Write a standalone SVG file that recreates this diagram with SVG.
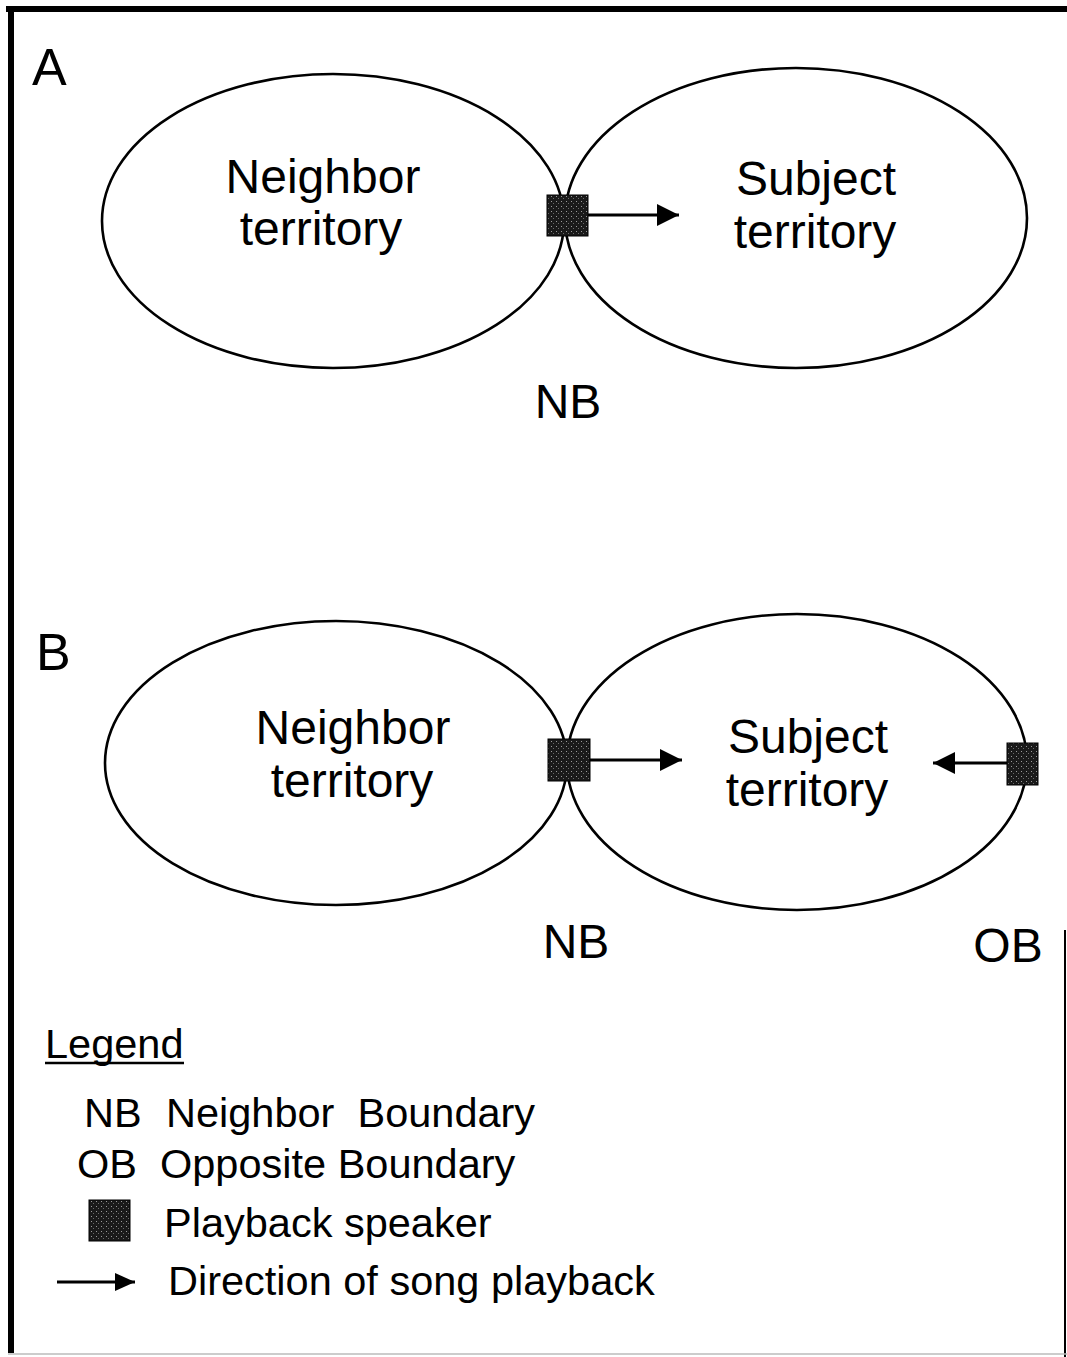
<svg xmlns="http://www.w3.org/2000/svg" width="1067" height="1357" viewBox="0 0 1067 1357">
<style>
.t{font-family:"Liberation Sans",Arial,sans-serif;fill:#000}
.big{font-size:48px;text-anchor:middle}
.lbl{font-size:52px}
.leg{font-size:41.5px}
.ell{fill:none;stroke:#000;stroke-width:2.6}
.conn{stroke:#000;stroke-width:3;fill:none}
.spk{fill:url(#noise);stroke:#000;stroke-width:1}
</style>
<defs>
<pattern id="noise" width="5" height="5" patternUnits="userSpaceOnUse">
<rect width="5" height="5" fill="#1a1a1a"/>
<rect x="1" y="1" width="1" height="1" fill="#9a9a9a"/>
<rect x="3" y="3" width="1" height="1" fill="#6a6a6a"/>
</pattern>
<marker id="ah" markerWidth="22" markerHeight="22" refX="22" refY="11" orient="auto" markerUnits="userSpaceOnUse">
<path d="M0,0 L22,11 L0,22 Z" fill="#000"/>
</marker>
<marker id="ahs" markerWidth="20" markerHeight="20" refX="20" refY="10" orient="auto" markerUnits="userSpaceOnUse">
<path d="M0,1 L20,10 L0,19 Z" fill="#000"/>
</marker>
</defs>
<g id="frame">
<rect x="6" y="6" width="1061" height="6" fill="#000"/>
<rect x="8" y="6" width="6" height="1347" fill="#000"/>
<line x1="1065" y1="930" x2="1065" y2="1357" stroke="#000" stroke-width="2"/>
<line x1="8" y1="1354" x2="1067" y2="1354" stroke="#bbb" stroke-width="1.5"/>
</g>
<g id="panelA">
<text class="t lbl" x="32" y="85">A</text>
</g>
<g id="A-neighbor">
<ellipse class="ell" cx="333" cy="221" rx="231" ry="147"/>
<text class="t big" x="323" y="193">Neighbor</text>
<text class="t big" x="321" y="245">territory</text>
</g>
<g id="A-subject">
<ellipse class="ell" cx="796" cy="218" rx="231" ry="150"/>
<text class="t big" x="816" y="195">Subject</text>
<text class="t big" x="815" y="248">territory</text>
</g>
<g id="A-speaker">
<rect class="spk" x="547" y="195" width="41" height="41"/>
<text class="t big" x="568" y="418">NB</text>
</g>
<g id="panelB">
<text class="t lbl" x="36" y="670">B</text>
</g>
<g id="B-neighbor">
<ellipse class="ell" cx="336" cy="763" rx="231" ry="142"/>
<text class="t big" x="353" y="744">Neighbor</text>
<text class="t big" x="352" y="797">territory</text>
</g>
<g id="B-subject">
<ellipse class="ell" cx="797" cy="762" rx="230" ry="148"/>
<text class="t big" x="808" y="753">Subject</text>
<text class="t big" x="807" y="806">territory</text>
</g>
<g id="B-speaker-NB">
<rect class="spk" x="548" y="739" width="42" height="42"/>
<text class="t big" x="576" y="958">NB</text>
</g>
<g id="B-speaker-OB">
<rect class="spk" x="1007" y="743" width="31" height="42"/>
<text class="t big" x="1008" y="962">OB</text>
</g>
<g id="connectors">
<line class="conn" x1="588" y1="215" x2="679" y2="215" marker-end="url(#ah)"/>
<line class="conn" x1="590" y1="760" x2="682" y2="760" marker-end="url(#ah)"/>
<line class="conn" x1="1007" y1="763" x2="933" y2="763" marker-end="url(#ah)"/>
</g>
<g id="legend">
<text class="t leg" x="45" y="1058">Legend</text>
<line x1="45" y1="1063" x2="184" y2="1063" stroke="#000" stroke-width="2.5"/>
<text class="t leg" x="84" y="1127">NB</text>
<text class="t leg" x="166" y="1127" xml:space="preserve">Neighbor  Boundary</text>
<text class="t leg" x="77" y="1178">OB</text>
<text class="t leg" x="160" y="1178">Opposite Boundary</text>
<rect class="spk" x="89" y="1200" width="41" height="41"/>
<text class="t leg" x="164" y="1237">Playback speaker</text>
<line class="conn" x1="57" y1="1282" x2="135" y2="1282" stroke-width="2.5" marker-end="url(#ahs)"/>
<text class="t leg" x="168" y="1295">Direction of song playback</text>
</g>
</svg>
